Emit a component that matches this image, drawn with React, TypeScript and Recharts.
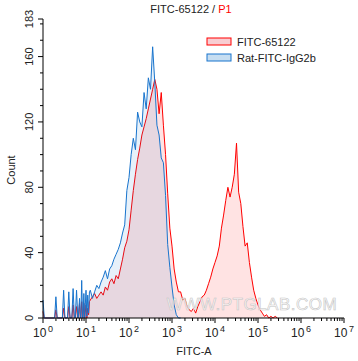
import { ComposedChart, Area, XAxis, YAxis } from 'recharts'

// channel position in decades (log10 of FITC-A)
const channelLog = [
  0, 0.03, 0.27, 0.3, 0.33, 0.45, 0.48, 0.51, 0.57, 0.6, 0.63, 0.67, 0.7, 0.73, 0.75, 0.78, 0.81, 0.82, 0.85, 0.87,
  0.88, 0.9, 0.92, 0.93, 0.95, 0.97,
  1.0, 1.02, 1.04, 1.06, 1.08,
  1.1, 1.15, 1.2, 1.25, 1.3, 1.35, 1.4, 1.45, 1.5, 1.55,
  1.6, 1.65, 1.7, 1.75, 1.8, 1.85, 1.9, 1.95, 2.0, 2.05,
  2.1, 2.15, 2.2, 2.25, 2.3, 2.35, 2.4, 2.45, 2.5, 2.55,
  2.6, 2.65, 2.7, 2.75, 2.8, 2.85, 2.9, 2.95, 3.0, 3.05,
  3.1, 3.15, 3.2, 3.25, 3.3, 3.35, 3.4, 3.45, 3.5, 3.55,
  3.6, 3.65, 3.7, 3.75, 3.8, 3.85, 3.9, 3.95, 4.0, 4.05,
  4.1, 4.15, 4.2, 4.25, 4.3, 4.35, 4.4, 4.45, 4.5, 4.55,
  4.6, 4.65, 4.7, 4.75, 4.8, 4.85, 4.9, 4.95, 5.0, 5.05,
  5.1, 5.15, 5.2, 5.25, 5.3, 5.35, 5.4, 5.45,
]

// FITC-65122
const sampleCounts = [
  4, 0, 0, 5, 0, 0, 6, 0, 0, 7, 0, 0, 8, 0, 0, 7, 0, 0, 9, 0,
  0, 10, 0, 0, 9, 0,
  8, 0, 6, 2, 10,
  11, 13, 15, 12, 14, 16, 14, 19, 17, 22,
  24, 21, 26, 24, 30, 36, 43, 47, 54, 66,
  78, 88, 97, 104, 112, 117, 122, 128, 134, 140,
  146, 140, 125, 138, 118, 100, 76, 55, 44, 30,
  22, 16, 16, 11, 12, 7, 5, 4, 6, 3,
  7, 10, 13, 14, 17, 21, 25, 30, 34, 38,
  44, 55, 63, 72, 80, 74, 80, 88, 107, 77,
  70, 56, 44, 46, 34, 25, 17, 12, 8, 5,
  3, 1, 2, 0, 1, 0, 1, 0,
]

// Rat-FITC-IgG2b
const isotypeCounts = [
  11, 0, 0, 13, 0, 0, 17, 0, 0, 16, 0, 0, 18, 0, 0, 17, 0, 0, 12, 0,
  0, 23, 0, 0, 15, 0,
  17, 1, 14, 3, 16,
  17, 12, 16, 20, 18, 22, 25, 29, 24, 30,
  32, 36, 39, 42, 46, 52, 57, 78, 86, 100,
  110, 103, 126, 120, 117, 138, 128, 147, 140, 166,
  144, 118, 112, 98, 95, 75, 45, 31, 19, 8,
  2, 0, 0,
]

const decades = [0, 1, 2, 3, 4, 5, 6, 7]
const minorSteps = [2, 3, 4, 5, 6, 7, 8, 9]
const countLabels = [0, 40, 80, 120, 160, 183]
const countTicks = [0, 10, 20, 30, 40, 50, 60, 70, 80, 90, 100, 110, 120, 130, 140, 150, 160, 170, 180, 183]

const rows = channelLog.map((log, i) => ({
  log,
  sample: sampleCounts[i] ?? null,
  isotype: isotypeCounts[i] ?? null,
}))

const logTicks = decades.flatMap((d) =>
  d < 7 ? [d, ...minorSteps.map((k) => d + Math.log10(k))] : [d]
)

const font = '"Liberation Sans", Arial, sans-serif'

function LogTick({ x, y, payload }: any) {
  const v = payload.value
  const major = Math.abs(v - Math.round(v)) < 1e-6
  return (
    <g>
      <line x1={x} x2={x} y1={y} y2={y + (major ? 5 : 3)} stroke="#000" />
      {major && (
        <text x={x} y={y + 19} textAnchor="middle" fontSize={12} fill="#222" fontFamily={font}>
          10
          <tspan dx={1.5} dy={-5} fontSize={9}>
            {Math.round(v)}
          </tspan>
        </text>
      )}
    </g>
  )
}

function CountTick({ x, y, payload }: any) {
  const major = countLabels.includes(payload.value)
  return (
    <g>
      <line x1={x - (major ? 5 : 3)} x2={x} y1={y} y2={y} stroke="#000" />
      {major && (
        <text
          transform={`translate(${x - 10},${y}) rotate(-90)`}
          textAnchor="middle"
          fontSize={11}
          fill="#222"
          fontFamily={font}
        >
          {payload.value}
        </text>
      )}
    </g>
  )
}

export default function App() {
  return (
    <div style={{ position: 'absolute', left: 0, top: 0, width: 358, height: 361, background: '#fff' }}>
      <ComposedChart width={358} height={361} data={rows} margin={{ top: 19, right: 14, bottom: 0, left: 0 }}>
        <XAxis
          dataKey="log"
          type="number"
          domain={[0, 7]}
          ticks={logTicks}
          interval={0}
          height={43}
          tickSize={0}
          tickMargin={0}
          tick={<LogTick />}
          axisLine={{ stroke: '#000' }}
        />
        <XAxis
          xAxisId="top"
          orientation="top"
          dataKey="log"
          type="number"
          domain={[0, 7]}
          height={0}
          tick={false}
          tickLine={false}
          axisLine={{ stroke: '#000' }}
        />
        <YAxis
          type="number"
          domain={[0, 183]}
          ticks={countTicks}
          interval={0}
          width={43}
          tickSize={0}
          tickMargin={0}
          tick={<CountTick />}
          axisLine={{ stroke: '#000' }}
        />
        <YAxis
          yAxisId="right"
          orientation="right"
          type="number"
          domain={[0, 183]}
          width={0}
          tick={false}
          tickLine={false}
          axisLine={{ stroke: '#000' }}
        />
        <Area
          type="linear"
          dataKey="sample"
          stroke="#ff0000"
          strokeWidth={1}
          fill="#ff0000"
          fillOpacity={0.11}
          dot={false}
          activeDot={false}
          isAnimationActive={false}
        />
        <Area
          type="linear"
          dataKey="isotype"
          stroke="#1874cd"
          strokeWidth={1}
          fill="#1874cd"
          fillOpacity={0.1}
          dot={false}
          activeDot={false}
          isAnimationActive={false}
        />
      </ComposedChart>

      <svg
        width={358}
        height={361}
        style={{ position: 'absolute', left: 0, top: 0, pointerEvents: 'none' }}
        fontFamily={font}
      >
        <text x={191} y={13} textAnchor="middle" fontSize={11} fill="#222">
          FITC-65122 /<tspan fill="#ff0000"> P1</tspan>
        </text>
        <text transform="translate(15,170) rotate(-90)" textAnchor="middle" fontSize={11} fill="#222">
          Count
        </text>
        <text x={194} y={355} textAnchor="middle" fontSize={11} fill="#222">
          FITC-A
        </text>

        <rect x={207} y={38} width={24} height={7} fill="#f8cdd2" stroke="#ff0000" />
        <text x={237} y={46} fontSize={11} fill="#222">FITC-65122</text>
        <rect x={207} y={54} width={24} height={7} fill="#c6ddf1" stroke="#1874cd" />
        <text x={237} y={62} fontSize={11} fill="#222">Rat-FITC-IgG2b</text>

        <text
          x={252}
          y={310}
          textAnchor="middle"
          fontSize={17}
          letterSpacing={0.5}
          fill="#ffffff"
          fillOpacity={0.7}
          stroke="#c4c4c4"
          strokeWidth={0.6}
        >
          WWW.PTGLAB.COM
        </text>
      </svg>
    </div>
  )
}
